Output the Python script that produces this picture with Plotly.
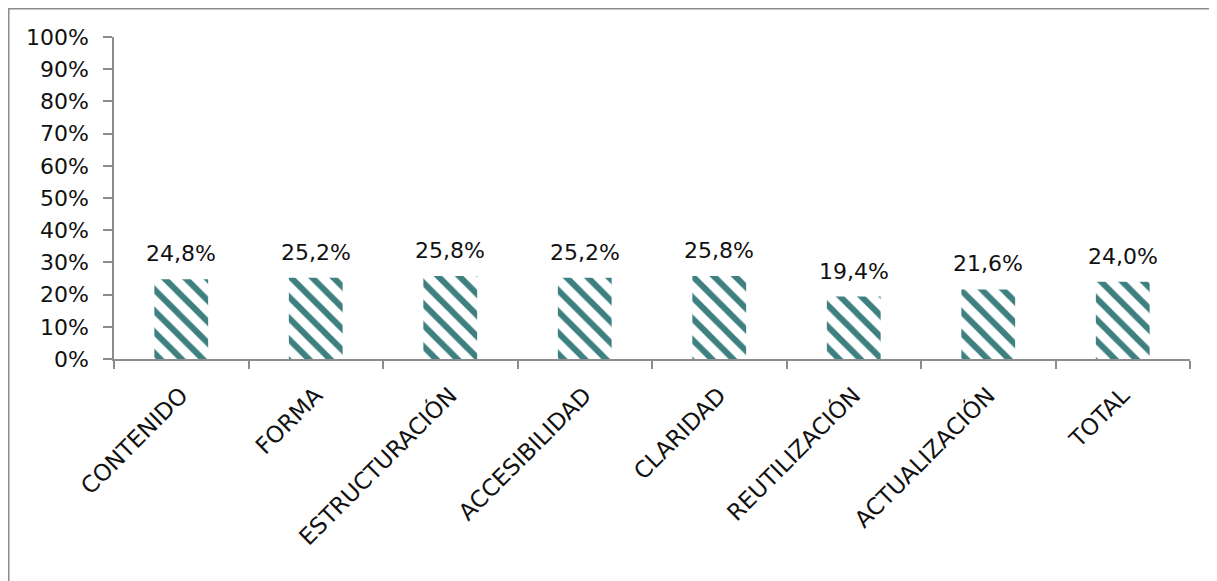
import plotly.graph_objects as go

categories = ["CONTENIDO", "FORMA", "ESTRUCTURACIÓN", "ACCESIBILIDAD", "CLARIDAD",
              "REUTILIZACIÓN", "ACTUALIZACIÓN", "TOTAL"]
values = [0.248, 0.252, 0.258, 0.252, 0.258, 0.194, 0.216, 0.240]
y_ticks = [i / 10 for i in range(11)]

FONT = "DejaVu Sans"
TEAL = "#3E7F80"
AXIS = "#8C8C8C"

fig = go.Figure()
fig.add_trace(go.Bar(
    x=categories, y=values,
    marker=dict(color=TEAL, line=dict(width=0),
                pattern=dict(shape="\\", fgcolor=TEAL, bgcolor="white",
                             fgopacity=1, size=15, solidity=0.4,
                             fillmode="replace")),
    hoverinfo="skip",
))

for c, v in zip(categories, values):
    fig.add_annotation(x=c, y=v, text=f"{v*100:.1f}%".replace(".", ","),
                       showarrow=False, yanchor="bottom", yshift=11,
                       font=dict(family=FONT, size=22, color="#111"))

# page has an 8px body margin: figure drawn at page (8,8)
W, H = 1209, 573
ml, mt = 106, 29
pw, ph = 1076, 322
mr, mb = W - ml - pw, H - mt - ph
fig.add_shape(type="rect", xref="paper", yref="paper",
              x0=(0.75 - ml) / pw, x1=(W + 20 - ml) / pw,
              y0=-(mb + 20) / ph, y1=1 + (mt - 0.75) / ph,
              line=dict(color=AXIS, width=1.5), fillcolor="rgba(0,0,0,0)")

fig.update_layout(
    width=W, height=H,
    margin=dict(l=ml, r=mr, t=mt, b=mb, autoexpand=False),
    paper_bgcolor="white", plot_bgcolor="white",
    bargap=0.6, showlegend=False,
    separators=",.",
    font=dict(family=FONT, size=22, color="#111"),
)
fig.update_xaxes(
    showline=True, linecolor=AXIS, linewidth=1.5,
    ticks="outside", ticklen=8, tickcolor=AXIS, tickwidth=1.5,
    tickson="boundaries", tickangle=-45, ticklabelstandoff=12,
    tickfont=dict(family=FONT, size=23, color="#111"),
    showgrid=False,
)
fig.update_yaxes(
    range=[0, 1], tickvals=y_ticks, tickformat=".0%",
    showline=True, linecolor=AXIS, linewidth=1.5,
    ticks="outside", ticklen=9, tickcolor=AXIS, tickwidth=1.5,
    ticklabelstandoff=10,
    tickfont=dict(family=FONT, size=22, color="#111"),
    showgrid=False, zeroline=False,
)

fig.write_html("out.html")
